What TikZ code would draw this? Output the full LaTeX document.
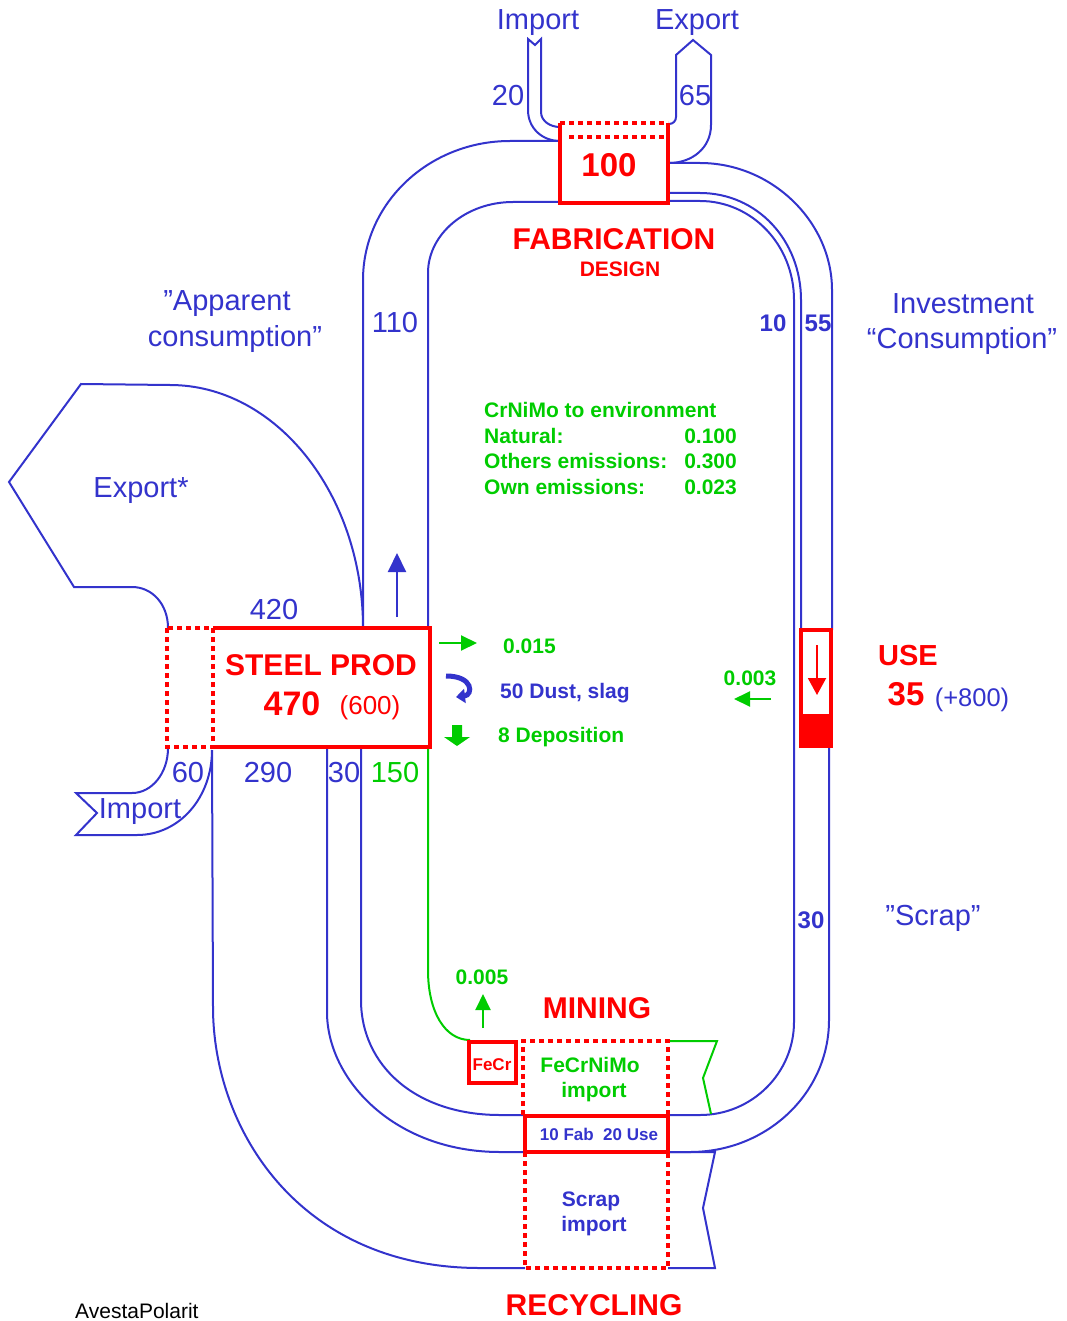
\documentclass[tikz,border=0pt]{standalone}
\usepackage{fontspec}
\setmainfont{Liberation Sans}
\usetikzlibrary{arrows.meta}
\definecolor{fblue}{RGB}{51,51,204}
\definecolor{fgreen}{RGB}{0,204,0}
\definecolor{fred}{RGB}{255,0,0}
\newcommand{\fsz}[1]{\fontsize{#1}{#1}\selectfont}
\begin{document}
\begin{tikzpicture}[x=1pt,y=-1pt,
  flow/.style={draw=fblue, line width=2pt},
  gflow/.style={draw=fgreen, line width=2pt},
  rsolid/.style={draw=fred, line width=4pt},
  rdot/.style={draw=fred, line width=4pt, dash pattern=on 5pt off 4pt},
  lb/.style={inner sep=0pt, anchor=base, text=fblue, font=\fsz{29}},
  lbb/.style={inner sep=0pt, anchor=base, text=fblue, font=\bfseries\fsz{24}},
  lbs/.style={inner sep=0pt, anchor=base, text=fblue, font=\bfseries\fsz{21}},
  gb/.style={inner sep=0pt, anchor=base, text=fgreen, font=\bfseries\fsz{21}},
  rb/.style={inner sep=0pt, anchor=base, text=fred, font=\bfseries\fsz{30}},
  garrow/.style={draw=fgreen, line width=2pt, -{Triangle[length=16pt,width=15pt]}}
]
\useasboundingbox (0,0) rectangle (1066,1321);

% ---------------- flows (blue) ----------------
% 110 stream
\draw[flow] (560,141) -- (510,141) .. controls (429,141) and (363,203) .. (363,280) -- (363,628);
\draw[flow] (560,202) -- (513,202) .. controls (466,202) and (428,234) .. (428,273) -- (428,628);
% top import 20
\draw[flow] (560,141) .. controls (542,141) and (528,128) .. (528,110) -- (528,39) -- (535,45) -- (541,39) -- (541,112) .. controls (541,121) and (550,127) .. (560,127);
% top export 65
\draw[flow] (669,124) .. controls (673,124) and (676,121) .. (676,117) -- (676,55) -- (693,40) -- (711,55) -- (711,125) .. controls (711,148) and (692,163) .. (669,163);
% right streams 55 / 10
\draw[flow] (669,163) -- (700,163) .. controls (772,163) and (832,222) .. (832,290) -- (832,630);
\draw[flow] (669,193) -- (700,193) .. controls (757,193) and (801,240) .. (801,300) -- (801,630);
\draw[flow] (669,201) -- (700,201) .. controls (752,201) and (794,245) .. (794,300) -- (794,1022) .. controls (794,1073) and (752,1115) .. (700,1115) -- (668,1115);
\draw[flow] (829,748) -- (829,1020) .. controls (829,1093) and (767,1152) .. (690,1152) -- (668,1152);
% 30 stream from steel production
\draw[flow] (361,748) -- (361,1000) .. controls (361,1065) and (415,1115) .. (500,1115) -- (525,1115);
\draw[flow] (327,748) -- (327,1012) .. controls (327,1080) and (395,1152) .. (500,1152) -- (525,1152);
% 290 stream
\draw[flow] (212,750) -- (213,1007) .. controls (213,1130) and (300,1268) .. (480,1268) -- (525,1268);
% 60 import
\draw[flow] (168,748) .. controls (168,773) and (152,793) .. (132,793) -- (76,793) -- (97,813) -- (76,835) -- (137,835) .. controls (180,835) and (212,797) .. (212,750);
% Export* 420
\draw[flow] (168,628) .. controls (168,604) and (152,587) .. (132,587) -- (74,587) -- (9,482) -- (81,384) -- (170,385) .. controls (276,385) and (363,494) .. (363,628);
% scrap import notch
\draw[flow] (668,1152) -- (715,1152) -- (703,1208) -- (715,1268) -- (668,1268);

% ---------------- green flows ----------------
\draw[gflow] (428,748) -- (428,970) .. controls (428,1012) and (445,1040) .. (470,1040);
\draw[gflow] (668,1041) -- (717,1041) -- (703,1078) -- (711,1114);

% ---------------- red boxes ----------------
% fabrication
\draw[rsolid] (560,123) -- (560,203) -- (668,203) -- (668,123);
\draw[rdot] (560,123) -- (668,123);
\draw[rdot] (569,137) -- (664,137);
% steel production
\draw[rsolid] (213,628) -- (430,628) -- (430,747) -- (213,747);
\draw[rdot] (167,628) rectangle (213,747);
% use
\draw[draw=fred, line width=3.5pt] (801,630) rectangle (831,716);
\fill[fred] (799,715) rectangle (833,748);
% FeCr
\draw[rsolid] (469,1042) rectangle (516,1083);
% FeCrNiMo import
\draw[rdot] (523,1115) -- (523,1041) -- (668,1041) -- (668,1115);
% 10 Fab 20 Use
\draw[rsolid] (525,1116) rectangle (668,1152);
% scrap import
\draw[rdot] (525,1152) -- (525,1268) -- (668,1268) -- (668,1152);

% ---------------- arrows ----------------
\draw[draw=fblue, line width=2pt, -{Triangle[length=19pt,width=18pt]}] (397,617) -- (397,553);
\draw[garrow] (439,643) -- (477,643);
\draw[garrow] (771,699) -- (734,699);
\draw[garrow] (483,1028) -- (483,994);
\draw[draw=fred, line width=2pt, -{Triangle[length=17pt,width=18pt]}] (817,645) -- (817,695);
\draw[draw=fblue, line width=5pt, -{Triangle[length=9pt,width=14pt]}] (446,676) .. controls (474,676) and (473,695) .. (456,697);
\fill[fgreen] (452,725) -- (462,725) -- (462,737) -- (470,737) -- (457,746) -- (444,737) -- (452,737) -- cycle;

% ---------------- texts ----------------
\node[lb] (impT) at (538,30) {Import};
\node[lb] (expT) at (697,30) {Export};
\node[lb] (n20) at (508,106) {20};
\node[lb] (n65) at (695,106) {65};
\node[rb, font=\bfseries\fsz{33}] (n100) at (609,177) {100};
\node[rb] (fab) at (614,250) {FABRICATION};
\node[rb, font=\bfseries\fsz{21}] (design) at (620,277) {DESIGN};
\node[lb] (app1) at (227,310) {”Apparent};
\node[lb] (app2) at (235,346) {consumption”};
\node[lb] (n110) at (395,332) {110};
\node[lbb] (n10) at (773,331) {10};
\node[lbb] (n55) at (818,331) {55};
\node[lb] (inv1) at (963,313) {Investment};
\node[lb] (inv2) at (962,348) {“Consumption”};

\node[gb, anchor=base west] (env) at (484,417) {CrNiMo to environment};
\node[gb, anchor=base west] (nat) at (484,443) {Natural:};
\node[gb, anchor=base east] (natv) at (737,443) {0.100};
\node[gb, anchor=base west] (oth) at (484,468) {Others emissions:};
\node[gb, anchor=base east] (othv) at (737,468) {0.300};
\node[gb, anchor=base west] (own) at (484,494) {Own emissions:};
\node[gb, anchor=base east] (ownv) at (737,494) {0.023};

\node[lb] (expS) at (141,497) {Export*};
\node[lb] (n420) at (274,619) {420};
\node[rb] (steel) at (321,675) {STEEL PROD};
\node[rb, font=\bfseries\fsz{34}] (n470) at (292,715) {470};
\node[rb, font=\fsz{26}] (n600) at (370,714) {(600)};
\node[gb, anchor=base west] (e015) at (503,653) {0.015};
\node[lbs, anchor=base west] (dust) at (500,698) {50 Dust, slag};
\node[gb, anchor=base west] (depo) at (498,742) {8 Deposition};
\node[gb] (e003) at (750,685) {0.003};
\node[rb, font=\bfseries\fsz{29}] (use) at (908,665) {USE};
\node[rb, font=\bfseries\fsz{33}] (n35) at (906,705) {35};
\node[lb, font=\fsz{25.5}] (n800) at (972,706) {(+800)};
\node[lb] (n60) at (188,782) {60};
\node[lb] (n290) at (268,782) {290};
\node[lb] (n30a) at (344,782) {30};
\node[lb, text=fgreen] (n150) at (395,782) {150};
\node[lb] (impB) at (140,818) {Import};
\node[lbb] (n30b) at (811,928) {30};
\node[lb] (scrapq) at (933,925) {”Scrap”};
\node[gb] (e005) at (482,984) {0.005};
\node[rb] (mining) at (597,1018) {MINING};
\node[rb, font=\bfseries\fsz{17}] (fecr) at (492,1070) {FeCr};
\node[gb] (fecrnimo) at (590,1072) {FeCrNiMo};
\node[gb] (imp1) at (594,1097) {import};
\node[lbs, font=\bfseries\fsz{17}] (fab20) at (599,1140) {10 Fab\ \ 20 Use};
\node[lbs] (scrap) at (591,1206) {Scrap};
\node[lbs] (imp2) at (594,1231) {import};
\node[rb] (recyc) at (594,1315) {RECYCLING};
\node[inner sep=0pt, anchor=base west, font=\fsz{21}] (avesta) at (75,1318) {AvestaPolarit};
\end{tikzpicture}
\end{document}
